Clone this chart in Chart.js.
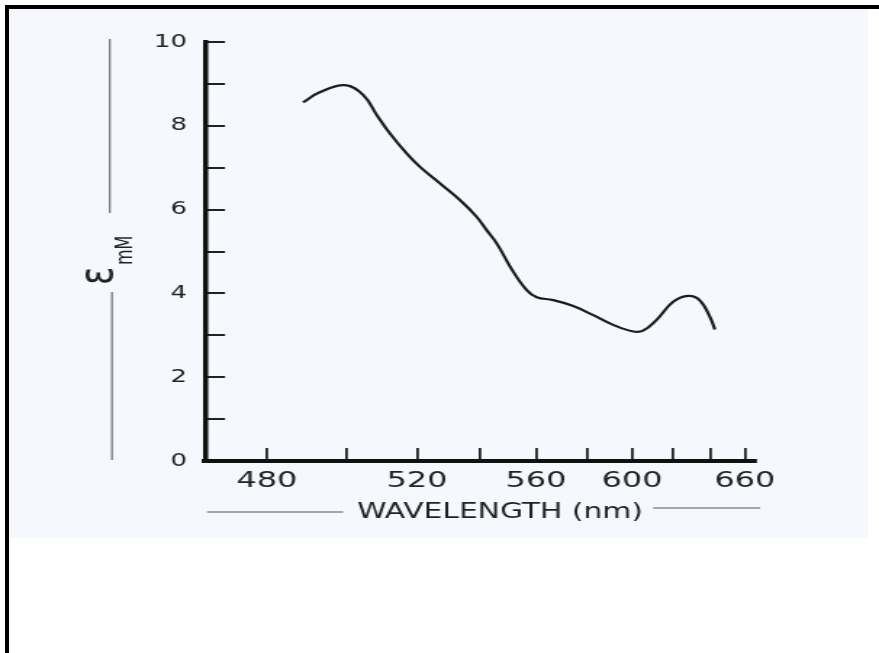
<!DOCTYPE html>
<html>
<head>
<meta charset="utf-8">
<title>Absorption spectrum</title>
<script src="https://cdn.jsdelivr.net/npm/chart.js@4.4.1/dist/chart.umd.min.js"></script>
<style>
    html, body { margin: 0; padding: 0; background: #fff; overflow: hidden; }
    #page { position: relative; width: 879px; height: 653px; }
    #scan { position: absolute; left: 9px; top: 9px; width: 859px; height: 529px; background: #f5f8fc; }
    #topEdge { position: absolute; left: 5px; top: 5px; width: 874px; height: 4px; background: #000; }
    #leftEdge { position: absolute; left: 5px; top: 5px; width: 4px; height: 648px; background: #000; }
    /* the scanned figure is stretched sideways, so the chart is drawn narrow and widened */
    #plot { position: absolute; left: 0; top: 0; width: 606px; height: 653px;
            transform: scaleX(1.4505); transform-origin: 0 0; }
</style>
</head>
<body>
<div id="page">
    <div id="scan"></div>
    <div id="topEdge"></div>
    <div id="leftEdge"></div>
    <div id="plot"><canvas id="chart" width="606" height="653"></canvas></div>
</div>
<script>
// wavelength (nm) and extinction coefficient (mM^-1 cm^-1)
const wavelength = [488.8, 493.0, 499.6, 504.5, 508.3, 512.0, 516.9,
                    520.9, 527.0, 533.4, 538.9, 542.3, 545.7, 551.6, 556.5, 560.2, 566.5,
                    574.5, 582.8, 591.4, 600.5, 605.1, 611.6, 619.9, 627.7, 634.0, 639.5, 642.3];
const epsilon = [8.56, 8.80, 8.97, 8.74, 8.26, 7.82, 7.34,
                 7.02, 6.63, 6.23, 5.83, 5.51, 5.20, 4.52, 4.08, 3.91, 3.84,
                 3.70, 3.48, 3.25, 3.09, 3.11, 3.37, 3.80, 3.94, 3.83, 3.44, 3.14];

const xTicks = [480, 500, 520, 540, 560, 580, 600, 620, 640, 660];
const xTickLabels = [480, 520, 560, 600, 660];
const yTickLabels = [0, 2, 4, 6, 8, 10];

const S = 879 / 606;   // horizontal stretch of the original figure
const FONT = '"DejaVu Sans", sans-serif';

// wavelength axis of the figure is linear in 1/lambda^2
class InvSquareScale extends Chart.Scale {
    static id = 'invsquare';
    static defaults = {};

    parse(raw) {
        return raw == null ? null : +raw;
    }

    determineDataLimits() {
        const { min, max } = this.getUserBounds();
        this.min = min;
        this.max = max;
    }

    buildTicks() {
        return xTicks.map(v => ({ value: v }));
    }

    configure() {
        super.configure();
        this._tMin = 1 / (this.min * this.min);
        this._tMax = 1 / (this.max * this.max);
    }

    getPixelForValue(v) {
        const t = 1 / (v * v);
        return this.getPixelForDecimal((this._tMin - t) / (this._tMin - this._tMax));
    }

    getValueForPixel(p) {
        const d = this.getDecimalForPixel(p);
        return 1 / Math.sqrt(this._tMin - d * (this._tMin - this._tMax));
    }

    getPixelForTick(i) {
        return this.getPixelForValue(this.ticks[i].value);
    }

    getLabelForValue(v) {
        return String(v);
    }
}
Chart.register(InvSquareScale);

// axis titles with the rules on either side, as in the printed figure
const axisTitles = {
    id: 'axisTitles',
    afterDraw(chart) {
        const { ctx, chartArea: a } = chart;
        ctx.save();

        ctx.strokeStyle = '#555';
        ctx.lineWidth = 1;
        const line = (x1, y1, x2, y2) => {
            ctx.beginPath();
            ctx.moveTo(x1, y1);
            ctx.lineTo(x2, y2);
            ctx.stroke();
        };

        // y title: epsilon with subscript mM, rotated
        line(a.left - 65.6, a.top - 3, a.left - 65.6, a.top + 171);
        line(a.left - 64.2, a.top + 250, a.left - 64.2, a.bottom - 1);

        ctx.fillStyle = '#222';
        ctx.save();
        ctx.translate(a.left - 63.5, a.top + 243);
        ctx.rotate(-Math.PI / 2);
        ctx.textAlign = 'left';
        ctx.textBaseline = 'alphabetic';
        ctx.font = '34px ' + FONT;
        ctx.fillText('ε', 0, 0);
        ctx.font = '16px ' + FONT;
        ctx.fillText('mM', 20, 13);
        ctx.restore();

        // x title
        ctx.font = '20.5px ' + FONT;
        ctx.textAlign = 'left';
        ctx.textBaseline = 'alphabetic';
        const text = 'WAVELENGTH (nm)';
        const x0 = a.left + 104.8;
        const tw = ctx.measureText(text).width;
        ctx.fillText(text, x0, a.bottom + 57);
        line(a.left + 1.4, a.bottom + 51, x0 - 9.5, a.bottom + 51);
        line(x0 + tw + 7, a.bottom + 47, a.right + 3.5, a.bottom + 47);

        ctx.restore();
    }
};

new Chart(document.getElementById('chart'), {
    type: 'line',
    data: {
        datasets: [{
            data: wavelength.map((w, i) => ({ x: w, y: epsilon[i] })),
            borderColor: '#1c1c1c',
            borderWidth: 2.2,
            pointRadius: 0,
            tension: 0.4,
            fill: false
        }]
    },
    options: {
        responsive: false,
        animation: false,
        events: [],
        layout: { padding: { left: 0, top: 42, right: 85.5, bottom: 0 } },
        plugins: {
            legend: { display: false },
            tooltip: { enabled: false },
            title: { display: false }
        },
        scales: {
            x: {
                type: 'invsquare',
                position: 'bottom',
                min: 466,
                max: 666.3,
                afterFit: (scale) => { scale.height = 192; },
                grid: { drawOnChartArea: false, tickLength: -13, lineWidth: 1.8, color: '#222' },
                border: { display: true, width: 4, color: '#111' },
                ticks: {
                    autoSkip: false,
                    maxRotation: 0,
                    padding: 20.3,
                    color: '#222',
                    font: { family: FONT, size: 22 },
                    callback: (v) => xTickLabels.includes(v) ? String(v) : ''
                }
            },
            y: {
                type: 'linear',
                position: 'left',
                min: 0,
                max: 10,
                afterFit: (scale) => { scale.width = 205 / S; },
                grid: { drawOnChartArea: false, tickLength: -13.8, lineWidth: 2, color: '#222' },
                border: { display: true, width: 3.5, color: '#111' },
                ticks: {
                    stepSize: 1,
                    autoSkip: false,
                    padding: 26.2,
                    color: '#222',
                    font: { family: FONT, size: 18 },
                    callback: (v) => yTickLabels.includes(v) ? String(v) : ''
                }
            }
        }
    },
    plugins: [axisTitles]
});
</script>
</body>
</html>
